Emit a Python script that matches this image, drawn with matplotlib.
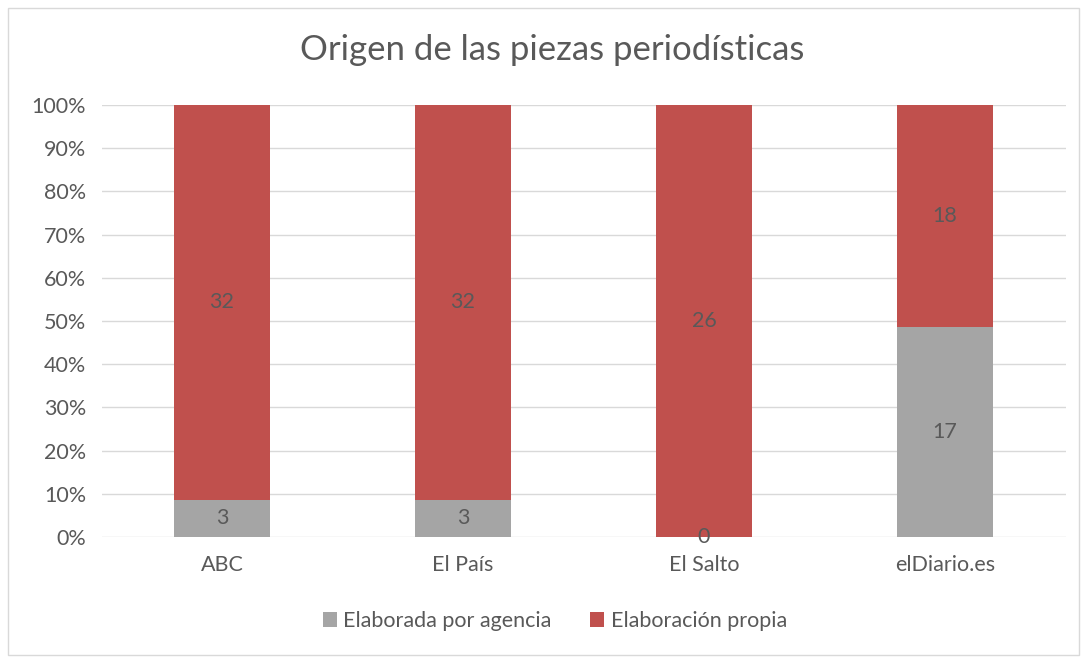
import matplotlib
matplotlib.use("Agg")
import matplotlib.pyplot as plt
from matplotlib.patches import Rectangle
import numpy as np

categories = ["ABC", "El País", "El Salto", "elDiario.es"]
agencia = [3, 3, 0, 17]
propia = [32, 32, 26, 18]
series_names = ["Elaborada por agencia", "Elaboración propia"]
title = "Origen de las piezas periodísticas"

GREY = "#A5A5A5"
RED = "#C0504D"
TXT = "#595959"

plt.rcParams['font.family'] = ['Lato', 'DejaVu Sans']

fig = plt.figure(figsize=(10.85, 6.57), dpi=100)
ax = fig.add_axes([101.5/1085, 1-537/657, 964/1085, 432/657])

ag = np.array(agencia, float)
pr = np.array(propia, float)
tot = ag + pr
ag_p = ag / tot * 100
pr_p = pr / tot * 100
x = np.arange(len(categories))
w = 0.4

b1 = ax.bar(x, ag_p, w, color=GREY, label=series_names[0], zorder=2)
b2 = ax.bar(x, pr_p, w, bottom=ag_p, color=RED, label=series_names[1], zorder=2)

for i in range(len(x)):
    ax.text(x[i], ag_p[i]/2, f"{agencia[i]}", ha="center", va="center", fontsize=15.5, color=TXT)
    ax.text(x[i], ag_p[i] + pr_p[i]/2, f"{propia[i]}", ha="center", va="center", fontsize=15.5, color=TXT)

ax.set_xlim(-0.5, len(x) - 0.5)
ax.set_ylim(0, 100)
ax.set_yticks(np.arange(0, 101, 10))
ax.set_yticklabels([f"{v}%" for v in range(0, 101, 10)])
ax.set_xticks(x)
ax.set_xticklabels(categories)
ax.tick_params(axis="both", length=0, labelsize=15.5, colors=TXT)
ax.tick_params(axis="y", pad=11)
ax.tick_params(axis="x", pad=13)
ax.yaxis.grid(True, color="#D9D9D9", linewidth=1, zorder=0)
ax.set_axisbelow(True)
for s in ax.spines.values():
    s.set_visible(False)

fig.text(552/1085, 1-50/657, title, ha="center", va="center", fontsize=25, color=TXT)

leg = fig.legend(handles=[b1, b2], loc="center", bbox_to_anchor=(555/1085, 1-621/657),
                 ncol=2, frameon=False, fontsize=15.5, labelcolor=TXT,
                 handlelength=0.65, handleheight=0.65, handletextpad=0.3, columnspacing=1.8)

fig.patches.append(Rectangle((8/1085, 0.003), 1-14/1085, 1-10/657, transform=fig.transFigure,
                             fill=False, edgecolor="#D9D9D9", linewidth=1))

fig.savefig("out.png", dpi=100)
